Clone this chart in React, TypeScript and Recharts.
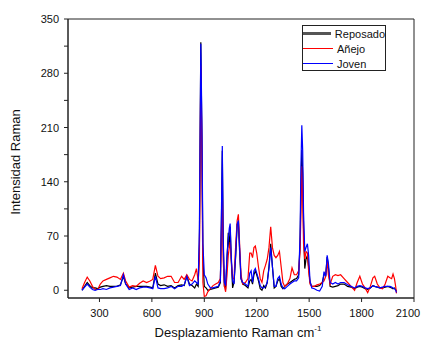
import { Legend, Line, LineChart, ReferenceArea, XAxis, YAxis } from 'recharts';

// Raman shift (cm-1) sampled along the three spectra
const wavenumber = [
  200, 215, 230, 245, 260, 275, 290, 305, 320, 340, 360, 380, 400, 420, 437, 450, 470, 490, 510, 530,
  550, 570, 590, 605, 620, 635, 650, 670, 690, 710, 730, 750, 770, 785, 800, 815, 830, 845, 855, 865,
  872, 880, 886, 892, 900, 910, 920, 935, 950, 965, 980, 992, 998, 1003, 1008, 1015, 1022, 1030, 1037, 1043,
  1048, 1054, 1062, 1070, 1080, 1088, 1095, 1102, 1110, 1120, 1135, 1150, 1160, 1168, 1176, 1184, 1192, 1200, 1210, 1220,
  1230, 1240, 1250, 1260, 1270, 1280, 1290, 1300, 1310, 1320, 1330, 1340, 1350, 1360, 1375, 1390, 1402, 1415, 1428, 1440,
  1448, 1453, 1458, 1463, 1468, 1475, 1482, 1490, 1497, 1505, 1515, 1530, 1545, 1560, 1575, 1585, 1595, 1603, 1610, 1620,
  1635, 1650, 1665, 1680, 1700, 1720, 1740, 1760, 1775, 1790, 1805, 1820, 1835, 1850, 1865, 1875, 1890, 1905, 1920, 1935,
  1950, 1962, 1972, 1980, 1988, 1995, 2000,
];

const reposado = [
  0, 5, 10, 6, 3, 3, 2, 4, 5, 6, 5, 5, 5, 7, 18, 8, 3, 4, 5, 5,
  5, 5, 4, 3, 22, 8, 6, 7, 5, 6, 3, 6, 7, 6, 18, 8, 6, 3, 8, 5,
  60, 320, 200, 40, 5, 3, 0, 1, 2, 3, 4, 10, 90, 180, 60, 5, 3, 40, 74, 55,
  82, 40, 3, 10, 45, 85, 88, 50, 15, 8, 6, 3, 12, 14, 8, 20, 25, 20, 12, 2,
  0, 6, 3, 10, 30, 60, 30, 3, 5, 12, 15, 5, 2, 5, 8, 10, 12, 14, 15, 20,
  60, 130, 181, 150, 80, 28, 40, 45, 30, 10, 5, 5, 5, 6, 10, 20, 20, 43, 30, 5,
  4, 5, 6, 8, 8, 5, 4, 2, 4, 5, 4, 2, 1, 3, 6, 5, 4, 3, 3, 4,
  5, 4, 3, 2, 3, 1, -1,
];

const anejo = [
  2, 10, 17, 12, 5, 1, 1, 8, 12, 14, 16, 18, 17, 14, 22, 12, 4, 6, 5, 9,
  12, 10, 12, 14, 32, 18, 15, 16, 18, 18, 10, 10, 18, 14, 20, 14, 12, 20, 28, 12,
  40, 290, 180, 10, -8, -7, -2, 2, 6, 8, 10, 15, 70, 140, 40, 5, -2, 20, 45, 55,
  62, 40, 15, 15, 60, 90, 98, 60, 20, 8, 10, 15, 48, 48, 42, 55, 57, 48, 30, 15,
  10, 25, 32, 40, 55, 82, 55, 45, 42, 45, 50, 30, 10, 5, 8, 15, 29, 20, 20, 25,
  50, 100, 160, 120, 60, 40, 50, 48, 25, 8, 5, 5, 7, 8, 10, 12, 18, 38, 20, 8,
  18, 20, 19, 20, 15, 10, 5, 0, 10, 18, 8, 3, -3, 5, 16, 18, 8, 3, 2, 8,
  18, 16, 15, 21, 15, 5, -4,
];

const joven = [
  0, 4, 8, 4, 1, 0, 1, 1, 2, 1, 3, 4, 5, 6, 20, 8, 1, 3, 1, 3,
  4, 4, 3, 2, 18, 3, 2, 2, 3, 5, 2, 5, 5, 7, 18, 6, 8, 12, 10, 8,
  80, 318, 220, 60, 20, 16, 8, 3, 3, 4, 5, 12, 100, 186, 70, 10, 6, 45, 65, 80,
  86, 45, 12, 8, 50, 85, 90, 55, 15, 10, 8, 5, 22, 25, 10, 25, 28, 22, 15, 6,
  3, 3, 5, 10, 28, 55, 30, 5, 5, 15, 18, 8, 3, 2, 5, 8, 10, 12, 12, 16,
  70, 160, 213, 180, 100, 50, 55, 60, 45, 12, 3, 2, 0, -1, 5, 24, 18, 45, 35, 10,
  8, 10, 8, 10, 10, 7, 5, 3, 5, 6, 5, 3, 2, 3, 6, 5, 4, 3, 4, 5,
  5, 5, 4, 3, 2, 0, -3,
];

const xTicks = [150, 300, 450, 600, 750, 900, 1050, 1200, 1350, 1500, 1650, 1800, 1950, 2100];
const yTicks = [0, 35, 70, 105, 140, 175, 210, 245, 280, 315, 350];

const rows = wavenumber.map((w, i) => ({
  w,
  reposado: reposado[i],
  anejo: anejo[i],
  joven: joven[i],
}));

const font = 'Arial, "Liberation Sans", sans-serif';

function XTick({ x, y, payload }: any) {
  if (payload.value % 300 !== 0) return null;
  return (
    <text x={x} y={y} dy={9} textAnchor="middle" fontSize={11} fontFamily={font} fill="#111">
      {payload.value}
    </text>
  );
}

function YTick({ x, y, payload }: any) {
  if (payload.value % 70 !== 0) return null;
  return (
    <text x={x} y={y} dy={4} textAnchor="end" fontSize={11} fontFamily={font} fill="#111">
      {payload.value}
    </text>
  );
}

function LegendBox() {
  const items = [
    { name: 'Reposado', color: '#555', width: 2.5 },
    { name: 'Añejo', color: '#ff0000', width: 1 },
    { name: 'Joven', color: '#0000ff', width: 1 },
  ];
  return (
    <div
      style={{
        width: 84,
        height: 46,
        border: '1px solid #222',
        background: '#fff',
        fontFamily: font,
        fontSize: 11,
        boxSizing: 'border-box',
      }}
    >
      {items.map((it) => (
        <div key={it.name} style={{ display: 'flex', alignItems: 'center', height: 15, whiteSpace: 'nowrap' }}>
          <div style={{ width: 30, height: it.width, background: it.color, marginRight: 4 }} />
          <span style={{ color: '#111' }}>{it.name}</span>
        </div>
      ))}
    </div>
  );
}

export default function App() {
  return (
    <div style={{ position: 'absolute', left: 0, top: 0, width: 424, height: 340, background: '#fff' }}>
      <LineChart width={424} height={340} data={rows} margin={{ top: 19, right: 10, bottom: 0, left: 0 }}>
        <XAxis
          dataKey="w"
          type="number"
          domain={[120, 2100]}
          ticks={xTicks}
          tick={<XTick />}
          tickSize={4}
          tickMargin={6}
          height={42}
          stroke="#222"
          allowDataOverflow
        />
        <YAxis
          type="number"
          domain={[-10, 350]}
          ticks={yTicks}
          tick={<YTick />}
          tickSize={4}
          tickMargin={5}
          width={68}
          stroke="#222"
          allowDataOverflow
        />
        <ReferenceArea x1={120} x2={2100} y1={-10} y2={350} fill="none" stroke="#222" strokeWidth={1} />
        <Line dataKey="reposado" name="Reposado" stroke="#000" strokeWidth={1.2} dot={false} isAnimationActive={false} />
        <Line dataKey="anejo" name="Añejo" stroke="#ff0000" strokeWidth={1.2} dot={false} isAnimationActive={false} />
        <Line dataKey="joven" name="Joven" stroke="#0000ff" strokeWidth={1.2} dot={false} isAnimationActive={false} />
        <Legend
          layout="vertical"
          align="center"
          verticalAlign="middle"
          wrapperStyle={{ top: 25, left: 302, width: 84 }}
          content={() => <LegendBox />}
        />
        <text x={17} y={162} transform="rotate(-90 17 162)" textAnchor="middle" dominantBaseline="middle" fontSize={13} fontFamily={font} fill="#111">
          Intensidad Raman
        </text>
        <text x={238} y={337} textAnchor="middle" fontSize={13} fontFamily={font} fill="#111">
          Desplazamiento Raman cm
          <tspan dy={-6} fontSize={8}>-1</tspan>
        </text>
      </LineChart>
    </div>
  );
}
